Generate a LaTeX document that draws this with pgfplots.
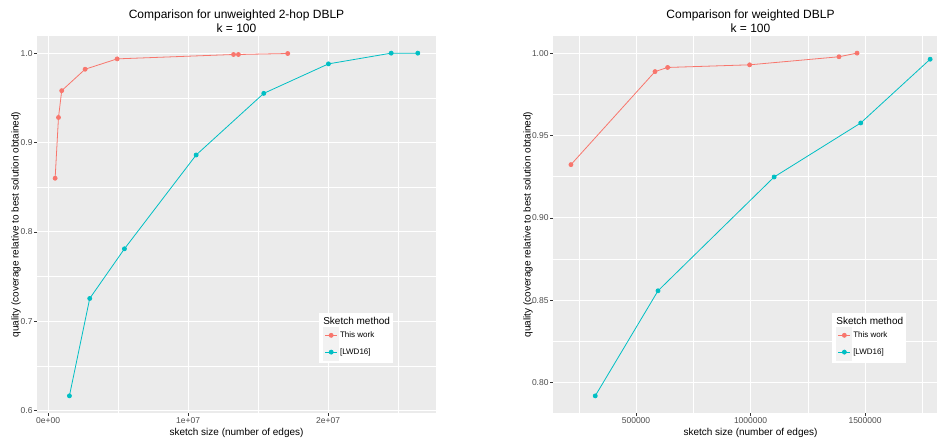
\documentclass[border=0pt]{standalone}
\usepackage{fontspec}
\setmainfont{Liberation Sans}
\usepackage{pgfplots}
\pgfplotsset{compat=1.18}
\definecolor{ggred}{HTML}{F8766D}
\definecolor{ggcyan}{HTML}{00BFC4}
\definecolor{panel}{HTML}{EBEBEB}
\definecolor{gg20}{HTML}{333333}
\definecolor{gg30}{HTML}{4D4D4D}
\definecolor{keybg}{HTML}{F2F2F2}
\pgfplotsset{ggstyle/.style={
  scale only axis, anchor=south west, height=377pt,
  axis background/.style={fill=panel},
  axis line style={draw=none},
  grid=both,
  major grid style={white, line width=1pt},
  minor grid style={white, line width=0.5pt},
  tick align=outside, major tick length=2.75pt, minor tick length=0pt,
  tick style={gg20, line width=0.5pt},
  xtick pos=bottom, ytick pos=left,
  scaled x ticks=false, scaled y ticks=false,
  ticklabel style={font=\fontsize{8.5}{9}\selectfont, text=gg30},
  xticklabel style={inner sep=1.5pt},
  yticklabel style={inner sep=1.5pt},
  title style={font=\fontsize{12}{14}\selectfont, align=center, at={(0.5,1)}, anchor=south, inner sep=0pt, yshift=-3pt},
  xlabel style={font=\fontsize{10}{12}\selectfont, at={(axis description cs:0.5,0)}, anchor=center, yshift=-19.5pt},
  ylabel style={font=\fontsize{10}{12}\selectfont, at={(axis description cs:0,0.5)}, anchor=center},
  xlabel={sketch size (number of edges)},
  ylabel={quality (coverage relative to best solution obtained)},
  legend style={at={(rel axis cs:0.707,0.266)}, anchor=north west, xshift=4pt, yshift=-14pt,
    draw=none, fill=none, inner sep=0pt, font=\fontsize{8}{9}\selectfont,
    row sep=0pt, nodes={inner sep=1pt}},
  legend cell align=left,
  legend image code/.code={
    \fill[keybg] (0pt,-8pt) rectangle (15pt,8pt);
    \draw[mark repeat=2,mark phase=2,##1] plot coordinates {(1.5pt,0pt) (7.5pt,0pt) (13.5pt,0pt)};
  },
  redplot/.style={color=ggred, line width=0.8pt, mark=*, mark size=2pt, mark options={solid}},
  cyanplot/.style={color=ggcyan, line width=0.8pt, mark=*, mark size=2pt, mark options={solid}},
}}
\begin{document}
\begin{tikzpicture}
\begin{axis}[ggstyle, at={(37pt,27pt)}, width=399pt,
  xmin=-0.795e6, xmax=2.77e7, ymin=0.5972, ymax=1.0192,
  xtick={0,1e7,2e7}, xticklabels={0e+00,1e+07,2e+07},
  minor xtick={5e6,1.5e7,2.5e7},
  ytick={0.6,0.7,0.8,0.9,1.0}, yticklabels={0.6,0.7,0.8,0.9,1.0},
  minor ytick={0.65,0.75,0.85,0.95},
  ylabel style={yshift=21pt},
  title={Comparison for unweighted 2-hop DBLP\\k = 100}]
\addplot[redplot] coordinates {(5e5,0.860) (7.4e5,0.928) (9.7e5,0.958) (2.64e6,0.982) (4.93e6,0.9936) (1.324e7,0.9985) (1.359e7,0.9985) (1.711e7,0.9996)};
\addlegendentry{This work}
\addplot[cyanplot] coordinates {(1.52e6,0.6164) (2.97e6,0.7254) (5.45e6,0.781) (1.057e7,0.886) (1.54e7,0.955) (2.002e7,0.988) (2.45e7,1.0) (2.64e7,1.0)};
\addlegendentry{[LWD16]}
\fill[white] (rel axis cs:0.707,0.266) rectangle ([xshift=74pt,yshift=-50pt]rel axis cs:0.707,0.266);
\node[anchor=west, font=\fontsize{10}{12}\selectfont, inner sep=0pt] at ([xshift=4pt,yshift=-8pt]rel axis cs:0.707,0.266) {Sketch method};
\end{axis}
\begin{axis}[ggstyle, at={(553pt,27pt)}, width=395pt,
  xmin=1.376e5, xmax=1.862e6, ymin=0.7815, ymax=1.0104,
  xtick={5e5,1e6,1.5e6}, xticklabels={500000,1000000,1500000},
  minor xtick={2.5e5,7.5e5,1.25e6,1.75e6},
  ytick={0.80,0.85,0.90,0.95,1.00}, yticklabels={0.80,0.85,0.90,0.95,1.00},
  minor ytick={0.825,0.875,0.925,0.975},
  ylabel style={yshift=25pt},
  title={Comparison for weighted DBLP\\k = 100}]
\addplot[redplot] coordinates {(2.16e5,0.9323) (5.83e5,0.9888) (6.38e5,0.9913) (9.96e5,0.9929) (1.386e6,0.9978) (1.465e6,1.0)};
\addlegendentry{This work}
\addplot[cyanplot] coordinates {(3.22e5,0.7919) (5.96e5,0.8557) (1.103e6,0.9248) (1.481e6,0.9576) (1.784e6,0.9963)};
\addlegendentry{[LWD16]}
\fill[white] (rel axis cs:0.707,0.266) rectangle ([xshift=74pt,yshift=-50pt]rel axis cs:0.707,0.266);
\node[anchor=west, font=\fontsize{10}{12}\selectfont, inner sep=0pt] at ([xshift=4pt,yshift=-8pt]rel axis cs:0.707,0.266) {Sketch method};
\end{axis}
\pgfresetboundingbox
\path[use as bounding box] (0,0) rectangle (937pt,440pt);
\end{tikzpicture}
\end{document}
